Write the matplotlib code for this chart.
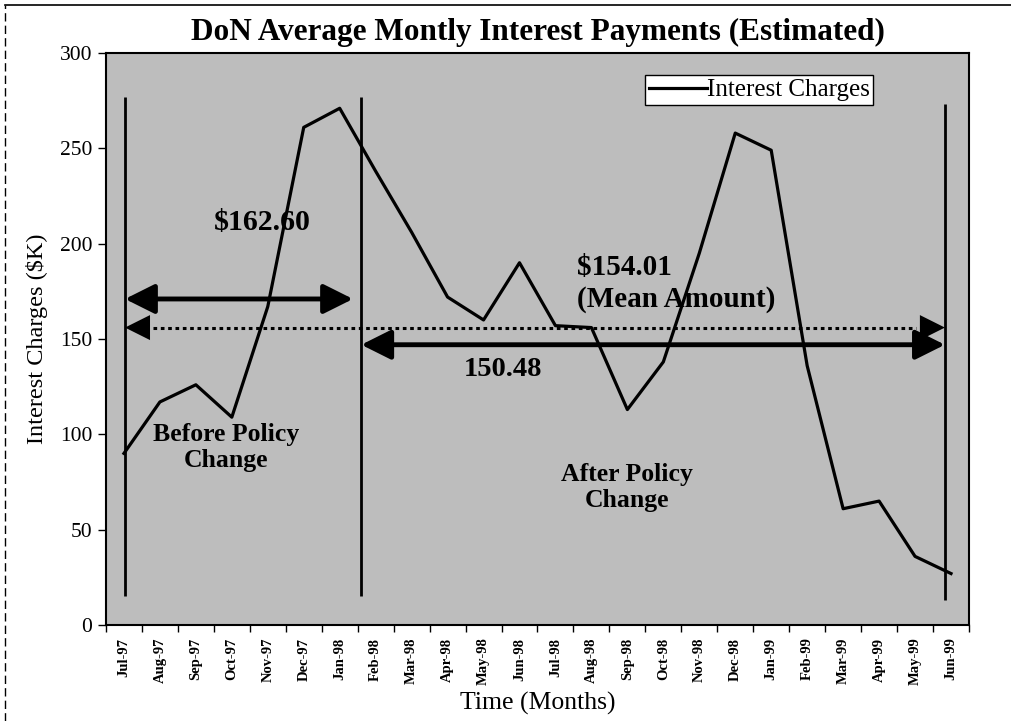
"""DoN average monthly interest payments, before/after policy change."""

import matplotlib

matplotlib.use("Agg")
import matplotlib.pyplot as plt
import numpy as np
from matplotlib.lines import Line2D

months = [
    "Jul-97", "Aug-97", "Sep-97", "Oct-97", "Nov-97", "Dec-97", "Jan-98",
    "Feb-98", "Mar-98", "Apr-98", "May-98", "Jun-98", "Jul-98", "Aug-98",
    "Sep-98", "Oct-98", "Nov-98", "Dec-98", "Jan-99", "Feb-99", "Mar-99",
    "Apr-99", "May-99", "Jun-99",
]
interest_charges = [
    90, 117, 126, 109, 167, 261, 271,
    238, 206, 172, 160, 190, 157, 156,
    113, 138, 195, 258, 249, 136, 61,
    65, 36, 27,
]
before_mean = 162.60
overall_mean = 154.01
after_mean = 150.48

plt.rcParams["font.family"] = ["Liberation Serif", "DejaVu Serif"]

fig = plt.figure(figsize=(10.12, 7.21), dpi=100)
ax = fig.add_axes([0.1047, 0.1331, 0.8528, 0.7934])
ax.set_facecolor("#bdbdbd")

x = np.arange(len(months))
ax.plot(x, interest_charges, color="black", lw=2.3, label="Interest Charges", zorder=3)

# period separators
split_x = 6.6
end_x = 22.83
ax.vlines([0.03, split_x], 15, 277, color="black", lw=2)
ax.vlines([end_x], 13, 273, color="black", lw=2)

# mean arrows
arrow_kw = dict(arrowstyle="<|-|>", mutation_scale=45, lw=3.5, color="black",
                shrinkA=0, shrinkB=0)
ax.annotate("", xy=(0.03, 171), xytext=(6.37, 171), arrowprops=arrow_kw)
ax.annotate("", xy=(split_x, 147), xytext=(end_x, 147), arrowprops=arrow_kw)

ax.plot([0.8, end_x - 0.8], [156, 156], color="black", lw=2.2, ls=(0, (1.2, 1.2)))
head_kw = dict(arrowstyle="-|>", mutation_scale=45, lw=0, color="black",
               shrinkA=0, shrinkB=0)
ax.annotate("", xy=(0.03, 156), xytext=(0.9, 156), arrowprops=head_kw)
ax.annotate("", xy=(end_x, 156), xytext=(end_x - 0.9, 156), arrowprops=head_kw)

bold = dict(fontweight="bold", color="black")
ax.text(3.84, 211, f"${before_mean:.2f}", ha="center", va="center", fontsize=21.5, **bold)
ax.text(12.6, 179, f"${overall_mean:.2f}\n(Mean Amount)", ha="left", va="center",
        fontsize=21, linespacing=1.2, **bold)
ax.text(10.54, 134, f"{after_mean:.2f}", ha="center", va="center", fontsize=20.5, **bold)
ax.text(2.84, 93, "Before Policy\nChange", ha="center", va="center", fontsize=18.5,
        linespacing=1.15, **bold)
ax.text(14.0, 72, "After Policy\nChange", ha="center", va="center", fontsize=18.5,
        linespacing=1.15, **bold)

ax.set_xlim(-0.5, len(months) - 0.5)
ax.set_ylim(0, 300)
ax.set_yticks(range(0, 301, 50))
ax.set_xticks(x)
ax.set_xticklabels(months, rotation=90, fontsize=10.5, fontweight="bold")
ax.set_xticks(np.arange(-0.5, len(months), 1.0), minor=True)
ax.tick_params(axis="x", which="major", length=0, pad=9)
ax.tick_params(axis="x", which="minor", length=5, width=1, direction="out")
ax.tick_params(axis="y", labelsize=15.5, length=6, width=1, direction="out", pad=4)
for spine in ax.spines.values():
    spine.set_linewidth(1.5)

ax.set_ylabel("Interest Charges ($K)", fontsize=17.5, labelpad=8)
ax.set_xlabel("Time (Months)", fontsize=18.5, labelpad=5)
ax.set_title("DoN Average Montly Interest Payments (Estimated)", fontsize=22.5,
             fontweight="bold", pad=9)

leg = ax.legend(loc="upper right", bbox_to_anchor=(0.889, 0.9615), fontsize=18,
                fancybox=False, framealpha=1, edgecolor="black", handlelength=2.3,
                handletextpad=0.0, borderpad=0.15, borderaxespad=0)
leg.get_frame().set_linewidth(1)

# scanned page border
fig.add_artist(Line2D([0.005, 0.005], [0.0, 0.993], transform=fig.transFigure,
                      color="black", lw=1, ls=(0, (6, 3))))
fig.add_artist(Line2D([0.005, 1.0], [0.993, 0.993], transform=fig.transFigure,
                      color="black", lw=1.2))

fig.savefig("out.png", dpi=100)
